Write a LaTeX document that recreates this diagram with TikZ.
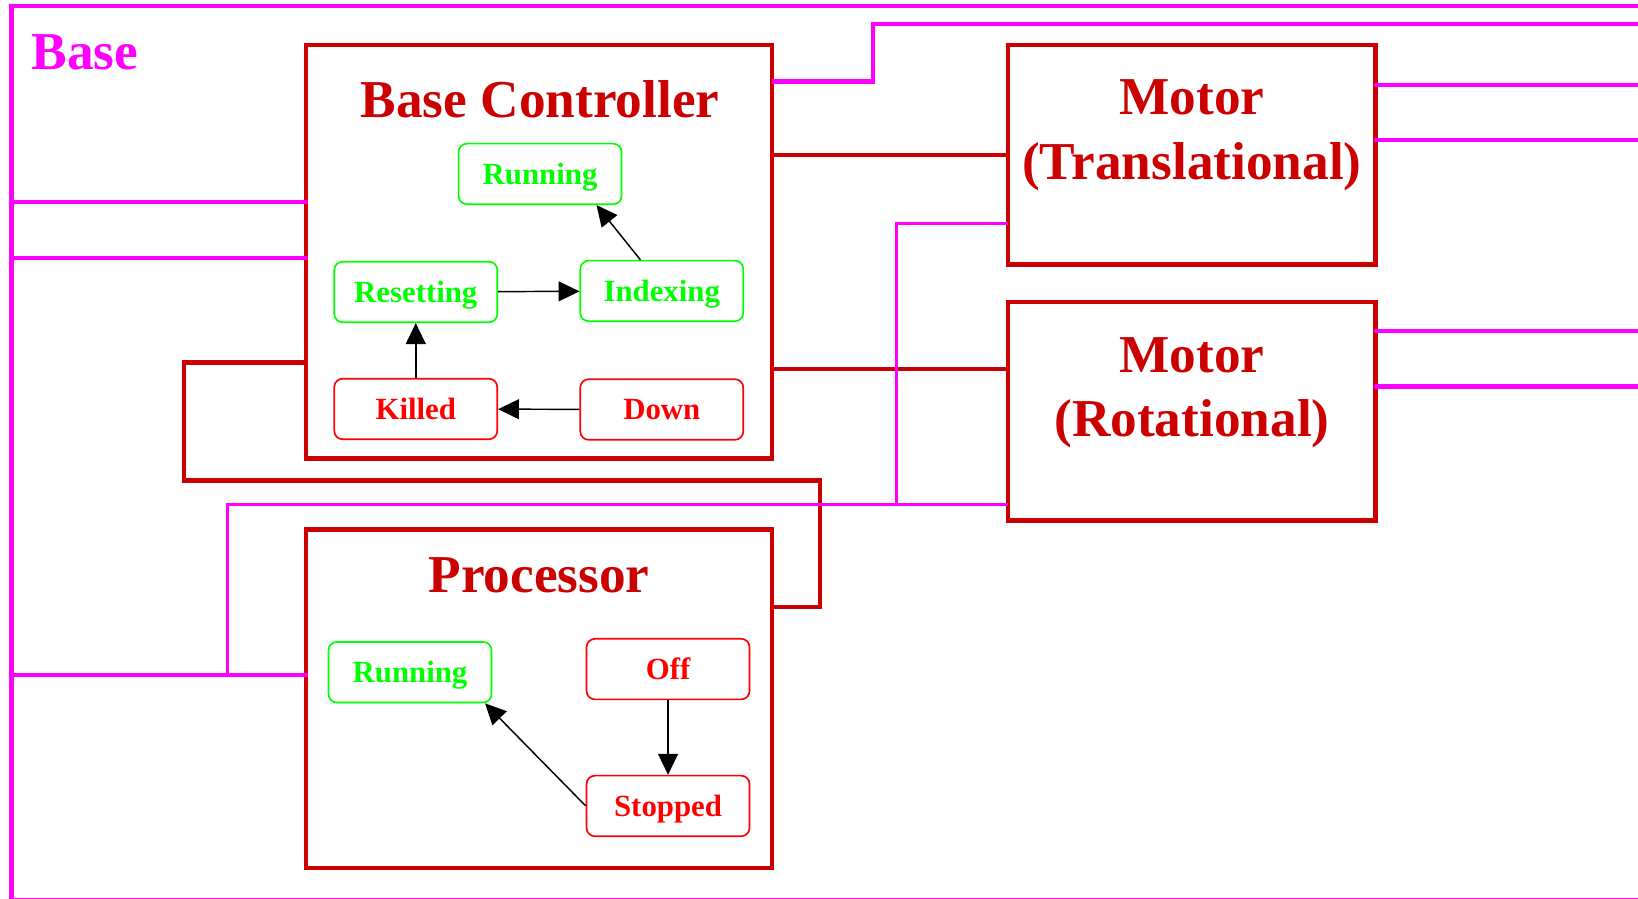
\documentclass[tikz,border=0pt]{standalone}
\usepackage{fontspec}
\setmainfont{Liberation Serif}
\usetikzlibrary{arrows.meta}
\definecolor{dred}{RGB}{204,0,0}
\definecolor{mag}{RGB}{255,0,255}
\definecolor{sgreen}{RGB}{0,255,0}
\definecolor{sred}{RGB}{255,0,0}
\tikzset{
 bigbox/.style={draw=dred, line width=4.5pt, inner sep=0pt, outer sep=0pt, rectangle},
 title/.style={text=dred, font=\fontsize{51}{60}\selectfont\bfseries, inner sep=0pt, anchor=base},
 state/.style={rectangle, rounded corners=8pt, line width=1.6pt, minimum width=156pt, minimum height=58pt, inner sep=0pt, font=\fontsize{29.5}{32}\selectfont\bfseries, text height=19.5pt, text depth=0pt},
 gstate/.style={state, draw=sgreen, text=sgreen},
 rstate/.style={state, draw=sred, text=sred},
 tr/.style={-{Triangle[length=20pt,width=19pt]}, line width=1.4pt, black},
 magw/.style={draw=mag, line width=4pt, line cap=round},
 magt/.style={draw=mag, line width=3.2pt, line cap=round},
 redw/.style={draw=dred, line width=4pt, line cap=round},
}
\begin{document}
\begin{tikzpicture}[x=1pt,y=-1pt]
\useasboundingbox (0,0) rectangle (1568,860);
\fill[white] (0,0) rectangle (1568,860);

% big boxes
\node[bigbox, minimum width=446pt, minimum height=396pt] (bc) at (516,241) {};
\node[bigbox, minimum width=352pt, minimum height=210pt] (mt) at (1141,148) {};
\node[bigbox, minimum width=352pt, minimum height=209pt] (mr) at (1141,393.5) {};
\node[bigbox, minimum width=446pt, minimum height=324pt] (pr) at (516,669) {};

% titles
\node[title] (bct) at (517,112) {Base Controller};
\node[title] (mt1) at (1141,110) {Motor};
\node[title] (mt2) at (1141,172) {(Translational)};
\node[title] (mr1) at (1141,357) {Motor};
\node[title] (mr2) at (1141,418) {(Rotational)};
\node[title] (prt) at (516,567) {Processor};
\node[text=mag, font=\fontsize{51}{60}\selectfont\bfseries, inner sep=0pt, anchor=base west] (base) at (30,67) {Base};

% states
\node[gstate] (bcrun) at (517,166.5) {Running};
\node[gstate] (reset) at (398,279.5) {Resetting};
\node[gstate] (index) at (633.5,278.5) {Indexing};
\node[rstate] (killed) at (398,391.5) {Killed};
\node[rstate] (down) at (633.5,392) {Down};
\node[gstate] (prun) at (392.5,643.5) {Running};
\node[rstate] (off) at (639.5,640.5) {Off};
\node[rstate] (stop) at (639.5,771.5) {Stopped};

% transitions
\draw[tr] ([xshift=-20.5pt]index.north) -- ([xshift=54pt]bcrun.south);
\draw[tr] (reset) -- (index);
\draw[tr] (killed) -- (reset);
\draw[tr] (down) -- (killed);
\draw[tr] (off) -- (stop);
\draw[tr] (stop.west) -- ([xshift=-7pt]prun.south east);

% red wires
\draw[redw] (mt.west) -- (mt.west -| bc.east);
\coordinate (w1) at ([yshift=40.5pt]mr.west);
\draw[redw] (w1) -- (w1 -| bc.east);
\coordinate (w2) at ([yshift=-106pt]bc.west);
\coordinate (w3) at ([yshift=88pt]pr.east);
\draw[redw, line cap=butt] (w3) -- ++(46,0) |- (176,460) |- (w2);

% magenta frame
\draw[draw=mag, line width=4pt] (1580,6) -- (11,6) -- (11,861.5) -- (1580,861.5);

% magenta wires
\coordinate (fl1) at (11,193);
\coordinate (fl2) at (11,247);
\coordinate (fl3) at (11,646);
\draw[magw] (fl1) -- (fl1 -| bc.west);
\draw[magw] (fl2) -- (fl2 -| bc.west);
\draw[magw] (fl3) -- (fl3 -| pr.west);
\draw[magw, line cap=butt] (bc.north east) ++(0,35) -| (836,23) -- (1580,23);
\coordinate (j1) at (218,646);
\draw[magt, line cap=butt] (j1) |- ([yshift=15pt]mr.south west);
\coordinate (j2) at (858,483);
\draw[magt, line cap=butt] (j2) |- ([yshift=39pt]mt.south west);
\draw[magw] (mt.north east) ++(0,38) -- ++(300,0);
\draw[magw] (mt.north east) ++(0,91) -- ++(300,0);
\draw[magw] (mr.north east) ++(0,28) -- ++(300,0);
\draw[magw] (mr.north east) ++(0,81) -- ++(300,0);
\end{tikzpicture}
\end{document}
